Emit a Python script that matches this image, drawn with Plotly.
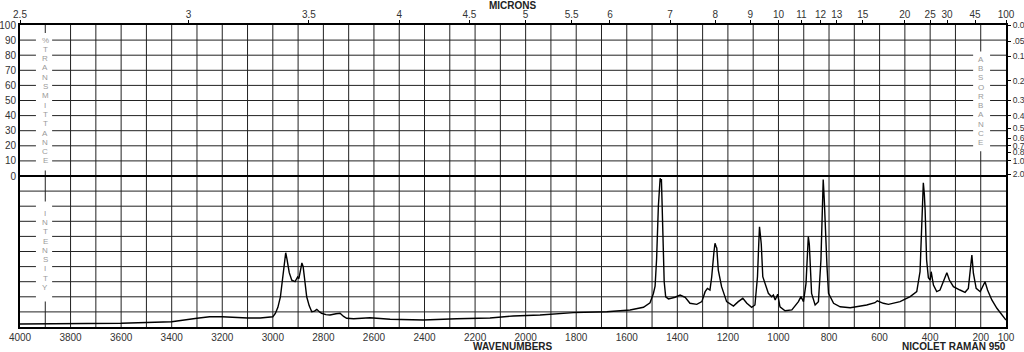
import plotly.graph_objects as go

# ---------------- data ----------------
wavenumbers = [4000, 3900, 3800, 3700, 3600, 3500, 3400, 3300, 3250, 3200, 3150, 3100, 3050, 3020, 3000,
               2990, 2980, 2970, 2960, 2952, 2949, 2944, 2935, 2925, 2912, 2902, 2897, 2890, 2885, 2880,
               2872, 2866, 2856, 2846, 2835, 2826, 2815, 2807, 2790, 2774, 2750, 2734, 2720, 2708, 2680,
               2655, 2616, 2536, 2405, 2273, 2141, 2049, 1943, 1811, 1679, 1587, 1534, 1508, 1495, 1488,
               1482, 1475, 1471, 1468, 1465, 1463, 1460, 1456, 1452, 1446, 1435, 1409, 1400, 1389, 1369,
               1350, 1323, 1303, 1290, 1281, 1271, 1264, 1255, 1251, 1246, 1244, 1238, 1225, 1205, 1178,
               1159, 1141, 1125, 1106, 1093, 1083, 1078, 1075, 1071, 1068, 1062, 1053, 1040, 1027, 1020,
               1013, 1003, 994, 974, 947, 921, 911, 901, 891, 886, 882, 878, 875, 869, 855,
               842, 832, 827, 823, 819, 815, 808, 802, 782, 756, 716, 651, 618, 609, 585,
               565, 519, 479, 453, 440, 433, 430, 427, 423, 420, 414, 407, 400, 396, 387,
               374, 361, 347, 334, 324, 308, 282, 262, 249, 242, 235, 229, 218, 202, 189,
               183, 173, 156, 136, 117, 100]
intensity = [2.0, 2.0, 2.0, 2.3, 2.5, 3.0, 3.5, 5.8, 6.8, 6.8, 6.3, 6.0, 6.0, 6.5, 6.8,
             9.0, 13.0, 20.0, 35.0, 47.0, 49.2, 45.0, 36.0, 31.0, 30.0, 33.1, 32.0, 38.0, 42.4, 40.0,
             30.0, 20.0, 14.0, 10.1, 10.5, 11.7, 10.0, 9.1, 8.2, 8.0, 8.8, 9.1, 7.0, 5.8, 5.5,
             5.8, 6.1, 5.1, 4.6, 5.5, 6.0, 7.3, 7.9, 9.5, 10.1, 11.3, 13.1, 16.0, 22.0, 27.0,
             45.0, 80.0, 97.0, 98.5, 96.0, 98.0, 80.0, 55.0, 30.0, 20.0, 18.6, 19.7, 20.6, 21.2, 19.7,
             15.7, 15.0, 16.8, 23.4, 25.6, 24.5, 33.3, 50.0, 55.4, 53.0, 52.3, 37.7, 26.7, 16.8, 13.9,
             16.8, 19.0, 15.7, 13.0, 14.6, 33.3, 55.0, 66.4, 60.0, 55.0, 33.3, 28.9, 22.3, 20.1, 21.2,
             17.9, 21.7, 13.4, 10.8, 11.3, 16.8, 20.1, 16.8, 28.9, 45.0, 59.8, 55.0, 46.6, 22.3, 14.6,
             16.8, 44.4, 80.0, 97.7, 85.0, 66.4, 40.0, 22.3, 15.7, 13.4, 12.8, 14.6, 16.1, 17.4, 15.7,
             15.0, 16.8, 20.1, 23.4, 36.6, 66.4, 85.0, 95.5, 88.0, 77.8, 44.4, 32.7, 31.1, 36.6, 27.8,
             23.4, 24.5, 31.1, 36.0, 31.1, 26.7, 24.5, 23.0, 25.6, 37.7, 47.7, 35.6, 25.6, 23.4, 27.8,
             30.0, 24.5, 17.9, 12.4, 7.9, 4.6]

wn_tick_vals = [4000, 3800, 3600, 3400, 3200, 3000, 2800, 2600, 2400, 2200, 2000,
                1800, 1600, 1400, 1200, 1000, 800, 600, 400, 200, 100]
micron_vals = [2.5, 3, 3.5, 4, 4.5, 5, 5.5, 6, 7, 8, 9, 10, 11, 12, 13, 15, 20, 25, 30, 45, 100]
micron_text = ["2.5", "3", "3.5", "4", "4.5", "5", "5.5", "6", "7", "8", "9", "10", "11", "12",
               "13", "15", "20", "25", "30", "45", "100"]
trans_vals = [0, 10, 20, 30, 40, 50, 60, 70, 80, 90, 100]
abs_vals = [0.0, 0.05, 0.1, 0.2, 0.3, 0.4, 0.5, 0.6, 0.7, 0.8, 1.0, 2.0]
abs_text = ["0.0", ".05", "0.1", "0.2", "0.3", "0.4", "0.5", "0.6", "0.7", "0.8", "1.0", "2.0"]

FONT = "Liberation Sans, Arial, sans-serif"
GRID = "#222222"
TXT = "#333333"

fig = go.Figure()
fig.add_trace(go.Scatter(x=wavenumbers, y=intensity, mode="lines",
                         line=dict(color="black", width=1.4),
                         xaxis="x", yaxis="y2", showlegend=False, hoverinfo="skip"))
# dummy trace to activate the top / right axes
fig.add_trace(go.Scatter(x=[4000, 100], y=[None, None], mode="lines",
                         xaxis="x2", yaxis="y3", showlegend=False, hoverinfo="skip"))

# grid every 100 cm-1 and every 10 units
grid_x = list(range(3900, 100, -100))
grid_y = [v for v in range(-90, 100, 10) if v != 0]

fig.update_layout(
    width=1024, height=352,
    margin=dict(l=20, r=18, t=25, b=25, pad=0, autoexpand=False),
    paper_bgcolor="white", plot_bgcolor="white",
    font=dict(family=FONT, size=10, color=TXT),
    xaxis=dict(range=[4000, 100], tickvals=wn_tick_vals, ticktext=[str(v) for v in wn_tick_vals],
               showgrid=False, zeroline=False, showline=True, linewidth=2, linecolor="black",
               ticks="", tickfont=dict(size=10, color=TXT), automargin=False),
    xaxis2=dict(range=[4000, 100], overlaying="x", side="top", anchor="y3",
                tickvals=[10000.0 / m for m in micron_vals], ticktext=micron_text,
                showgrid=False, zeroline=False, showline=True, linewidth=2, linecolor="black",
                ticks="outside", ticklen=3, tickcolor="black", tickfont=dict(size=10, color=TXT),
                ticklabelstandoff=-2, automargin=False),
    yaxis=dict(range=[-100, 100], tickvals=trans_vals, ticktext=[str(v) for v in trans_vals],
               showgrid=False, zeroline=True, zerolinewidth=2, zerolinecolor="black",
               showline=True, linewidth=2, linecolor="black", ticks="",
               tickfont=dict(size=10, color=TXT), automargin=False),
    yaxis2=dict(range=[0, 200], overlaying="y", visible=False, automargin=False),
    yaxis3=dict(range=[-100, 100], overlaying="y", side="right", anchor="x2",
                tickvals=[100 * 10 ** (-a) for a in abs_vals], ticktext=abs_text,
                showgrid=False, zeroline=False, showline=True, linewidth=2, linecolor="black",
                ticks="outside", ticklen=3, tickcolor="black", tickfont=dict(size=8.5, color=TXT),
                automargin=False),
)

shapes = []
for gx in grid_x:
    shapes.append(dict(type="line", xref="x", yref="y", x0=gx, x1=gx, y0=-100, y1=100,
                       line=dict(color=GRID, width=1), layer="below"))
for gy in grid_y:
    shapes.append(dict(type="line", xref="x", yref="y", x0=4000, x1=100, y0=gy, y1=gy,
                       line=dict(color=GRID, width=1), layer="below"))
# white gaps where the vertical captions sit
for (xa, xb, ya, yb) in [(3937, 3873, 3.6, 94.7), (3937, 3873, -83.1, -16.9), (230, 163, 16.4, 82.5)]:
    shapes.append(dict(type="rect", xref="x", yref="y", x0=xa, x1=xb, y0=ya, y1=yb,
                       fillcolor="white", line=dict(width=0), layer="below"))
fig.update_layout(shapes=shapes)

ann = []
def vertical_word(word, x, y_top, y_bot):
    n = len(word)
    for i, ch in enumerate(word):
        y = y_top + (y_bot - y_top) * i / (n - 1)
        ann.append(dict(x=x, y=y, xref="x", yref="y", text=ch, showarrow=False,
                        font=dict(family=FONT, size=8, color="#9a9a9a"),
                        xanchor="center", yanchor="middle"))

vertical_word("%TRANSMITTANCE", 3900, 90, 10)
vertical_word("INTENSITY", 3900, -24.8, -73.8)
vertical_word("ABSORBANCE", 200, 77.2, 22.2)

ann.append(dict(x=0.5, y=1.064, xref="paper", yref="paper", text="<b>MICRONS</b>", showarrow=False,
                font=dict(family=FONT, size=10, color="#222"), xanchor="center", yanchor="middle"))
ann.append(dict(x=0.5, y=-0.066, xref="paper", yref="paper", text="<b>WAVENUMBERS</b>", showarrow=False,
                font=dict(family=FONT, size=10, color="#222"), xanchor="center", yanchor="middle"))
ann.append(dict(x=1.002, y=-0.066, xref="paper", yref="paper", text="<b>NICOLET RAMAN 950</b>",
                showarrow=False, font=dict(family=FONT, size=10, color="#222"),
                xanchor="right", yanchor="middle"))
fig.update_layout(annotations=ann)

fig.write_html("out.html")
